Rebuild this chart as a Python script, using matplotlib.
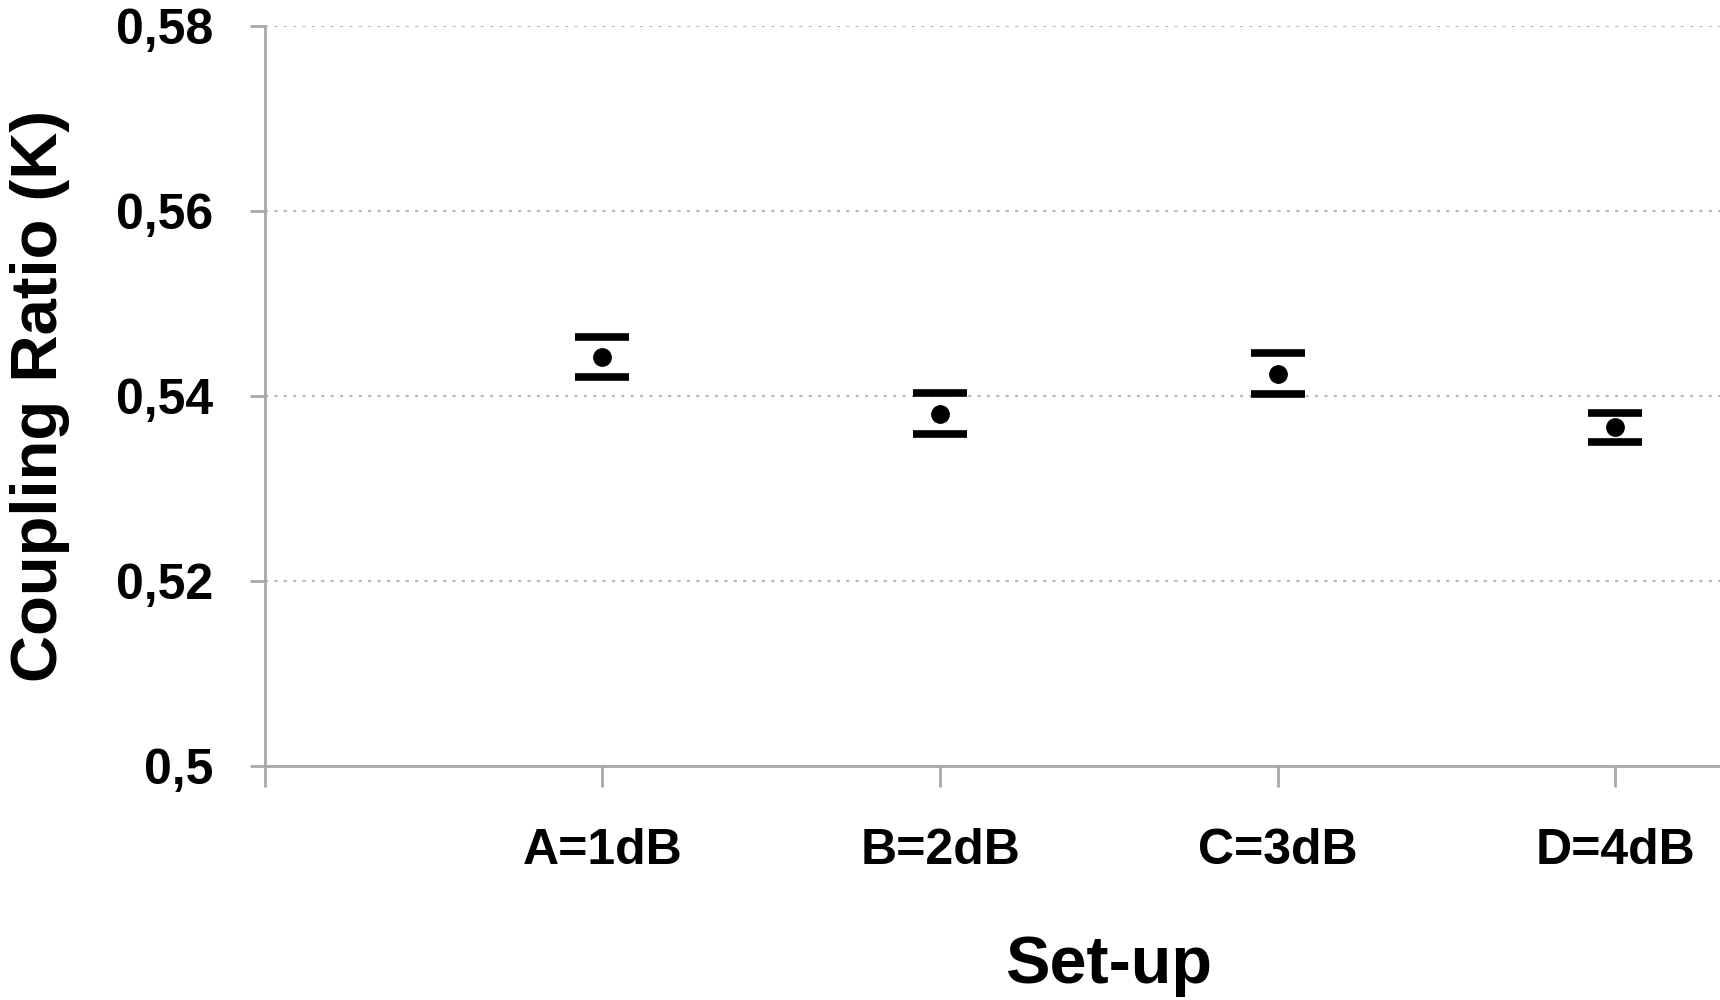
import matplotlib
matplotlib.use("Agg")
import matplotlib.pyplot as plt

categories = ["A=1dB", "B=2dB", "C=3dB", "D=4dB"]
coupling_ratio = [0.5442, 0.5381, 0.5424, 0.5366]
error = [0.0022, 0.0022, 0.0022, 0.0016]
y_ticks = [0.50, 0.52, 0.54, 0.56, 0.58]
y_tick_labels = ["0,5", "0,52", "0,54", "0,56", "0,58"]

plt.rcParams['font.family'] = ['Liberation Sans', 'DejaVu Sans']

fig = plt.figure(figsize=(17.2, 10), dpi=100)
ax = fig.add_axes([0.154, 0.234, 0.846, 0.740])

x = list(range(1, len(categories) + 1))
eb = ax.errorbar(x, coupling_ratio, yerr=error, fmt='o', color='black',
                 markersize=12.5, capsize=19.5, capthick=5.5, ecolor='black',
                 elinewidth=2, zorder=3)
for line in eb[2]:
    line.set_visible(False)

xmax = 4.31
ax.set_xlim(0, xmax)
ax.set_ylim(0.50, 0.58)
ax.set_yticks(y_ticks)
ax.set_yticklabels(y_tick_labels)
ax.set_xticks([0] + x)
ax.set_xticklabels([""] + categories)

for s in ['top', 'right']:
    ax.spines[s].set_visible(False)
for s in ['left', 'bottom']:
    ax.spines[s].set_color('#a8a8a8')
    ax.spines[s].set_linewidth(2)

ax.tick_params(axis='y', direction='out', length=11, width=2, color='#a8a8a8',
               labelsize=36, pad=26)
ax.tick_params(axis='x', direction='out', length=15, width=2, color='#a8a8a8',
               labelsize=36, pad=30)
for lbl in ax.get_xticklabels() + ax.get_yticklabels():
    lbl.set_fontweight('bold')

ax.yaxis.grid(True, linestyle=(0, (1.5, 3)), color='#b8b8b8', linewidth=1.5)
ax.set_axisbelow(True)

ax.set_ylabel("Coupling Ratio (K)", fontsize=47, fontweight='bold')
ax.yaxis.set_label_coords(-0.134, 0.5)
ax.set_xlabel("Set-up", fontsize=48, fontweight='bold')
ax.xaxis.set_label_coords(2.5 / xmax, -0.228)

fig.savefig("out.png", dpi=100)
